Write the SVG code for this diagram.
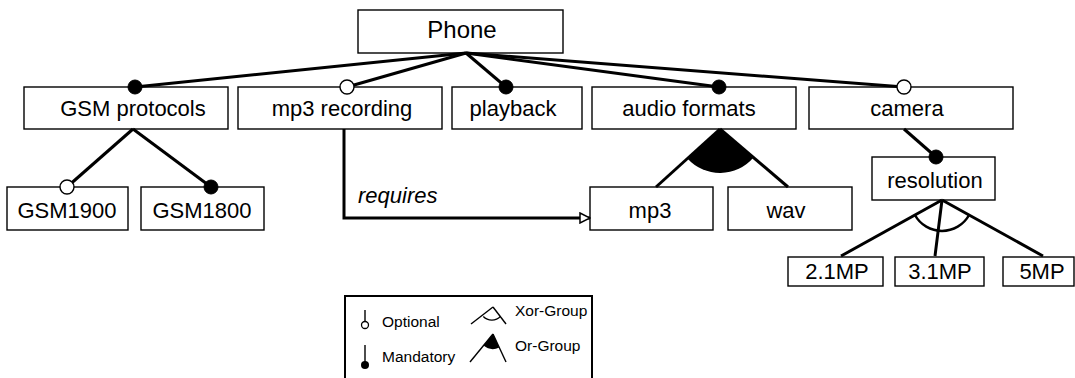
<svg xmlns="http://www.w3.org/2000/svg" width="1075" height="378" viewBox="0 0 1075 378">
<defs>
<style>
.box{fill:#fff;stroke:#000;stroke-width:1.4}
.lbl{font-family:"Liberation Sans",Arial,sans-serif;font-size:22px;fill:#000;text-anchor:middle}
.leg{font-family:"Liberation Sans",Arial,sans-serif;font-size:15.5px;fill:#000}
.edge{stroke:#000;stroke-width:3;fill:none}
.mand{fill:#000;stroke:#000;stroke-width:1}
.opt{fill:#fff;stroke:#000;stroke-width:1.4}
.thin{stroke:#000;stroke-width:1.4;fill:none}
.wedge{fill:#000;stroke:none}
</style>
<marker id="openTri" viewBox="0 0 12 12" refX="11" refY="6" markerWidth="12" markerHeight="12" markerUnits="userSpaceOnUse" orient="auto">
<path d="M1,1 L11,6 L1,11 Z" fill="#fff" stroke="#000" stroke-width="1.5"/>
</marker>
</defs>
<rect width="1075" height="378" fill="#fff"/>

<g id="phone"><rect class="box" x="358" y="10" width="205" height="43"/><text class="lbl" x="462" y="38" style="font-size:24px">Phone</text></g>
<g id="gsm-protocols"><rect class="box" x="24" y="87" width="204" height="42"/><text class="lbl" x="133" y="116">GSM protocols</text></g>
<g id="mp3-recording"><rect class="box" x="238" y="87" width="204" height="42"/><text class="lbl" x="342" y="116">mp3 recording</text></g>
<g id="playback"><rect class="box" x="452" y="87" width="130" height="42"/><text class="lbl" x="513" y="116">playback</text></g>
<g id="audio-formats"><rect class="box" x="592" y="87" width="204" height="42"/><text class="lbl" x="689" y="116">audio formats</text></g>
<g id="camera"><rect class="box" x="809" y="87" width="204" height="42"/><text class="lbl" x="907" y="116">camera</text></g>
<g id="gsm1900"><rect class="box" x="7" y="187" width="121" height="43"/><text class="lbl" x="67" y="218">GSM1900</text></g>
<g id="gsm1800"><rect class="box" x="141" y="187" width="123" height="43"/><text class="lbl" x="202" y="218">GSM1800</text></g>
<g id="mp3"><rect class="box" x="590" y="187" width="123" height="43"/><text class="lbl" x="650" y="218">mp3</text></g>
<g id="wav"><rect class="box" x="728" y="187" width="124" height="43"/><text class="lbl" x="786" y="218">wav</text></g>
<g id="resolution"><rect class="box" x="872" y="157" width="123" height="43"/><text class="lbl" x="935" y="188">resolution</text></g>
<g id="res-2-1mp"><rect class="box" x="788" y="257" width="95" height="29"/><text class="lbl" x="837" y="279">2.1MP</text></g>
<g id="res-3-1mp"><rect class="box" x="895" y="257" width="89" height="29"/><text class="lbl" x="940" y="279">3.1MP</text></g>
<g id="res-5mp"><rect class="box" x="1003" y="257" width="71" height="29"/><text class="lbl" x="1042" y="279">5MP</text></g>

<g id="connectors">
<line class="edge" x1="466" y1="53" x2="135" y2="87"/>
<line class="edge" x1="466" y1="53" x2="347" y2="87"/>
<line class="edge" x1="466" y1="53" x2="506" y2="87"/>
<line class="edge" x1="466" y1="53" x2="719" y2="87"/>
<line class="edge" x1="466" y1="53" x2="904" y2="87"/>
<line class="edge" x1="133" y1="129" x2="67" y2="187"/>
<line class="edge" x1="133" y1="129" x2="211" y2="187"/>
<line class="edge" x1="904" y1="129" x2="936" y2="157"/>
<path class="wedge" d="M720,129 L687.4,158.5 A44,44 0 0 0 753.5,157.5 Z"/>
<line class="edge" x1="720" y1="129" x2="656" y2="187"/>
<line class="edge" x1="720" y1="129" x2="788" y2="187"/>
<line class="edge" x1="942" y1="200" x2="841" y2="256"/>
<line class="edge" x1="942" y1="200" x2="935" y2="256"/>
<line class="edge" x1="942" y1="200" x2="1043" y2="256"/>
<path d="M914.9,215 A31,31 0 0 0 969.1,215" fill="none" stroke="#000" stroke-width="2.5"/>
<path d="M344,129 L344,218 L590,218" fill="none" stroke="#000" stroke-width="3" marker-end="url(#openTri)"/>
<text x="358" y="203" class="lbl" style="text-anchor:start;font-style:italic">requires</text>
<circle class="mand" cx="135" cy="87" r="7"/>
<circle class="opt" cx="347" cy="87" r="7"/>
<circle class="mand" cx="506" cy="87" r="7"/>
<circle class="mand" cx="719" cy="87" r="7"/>
<circle class="opt" cx="904" cy="87" r="7"/>
<circle class="opt" cx="67" cy="187" r="7"/>
<circle class="mand" cx="211" cy="187" r="7"/>
<circle class="mand" cx="936" cy="157" r="7"/>
</g>

<g id="legend">
<rect x="345" y="296" width="247" height="100" fill="#fff" stroke="#000" stroke-width="2"/>
<line class="thin" x1="365" y1="310" x2="365" y2="321.5"/>
<circle cx="365" cy="325" r="3.5" fill="#fff" stroke="#000" stroke-width="1.3"/>
<text class="leg" x="382" y="327">Optional</text>
<line class="thin" x1="365" y1="345" x2="365" y2="362"/>
<circle cx="365" cy="365" r="4" fill="#000"/>
<text class="leg" x="382" y="362">Mandatory</text>
<line class="thin" x1="493" y1="307" x2="471" y2="324"/>
<line class="thin" x1="493" y1="307" x2="506" y2="324"/>
<path d="M483.3,316.5 A12,12 0 0 0 500.5,316.4" fill="none" stroke="#000" stroke-width="1.3"/>
<text class="leg" x="515" y="316">Xor-Group</text>
<path class="wedge" d="M493,334 L483.5,345.6 A15,15 0 0 0 499.3,347.6 Z"/>
<line class="thin" x1="493" y1="334" x2="470" y2="362"/>
<line class="thin" x1="493" y1="334" x2="506" y2="362"/>
<text class="leg" x="515" y="351">Or-Group</text>
</g>
</svg>
